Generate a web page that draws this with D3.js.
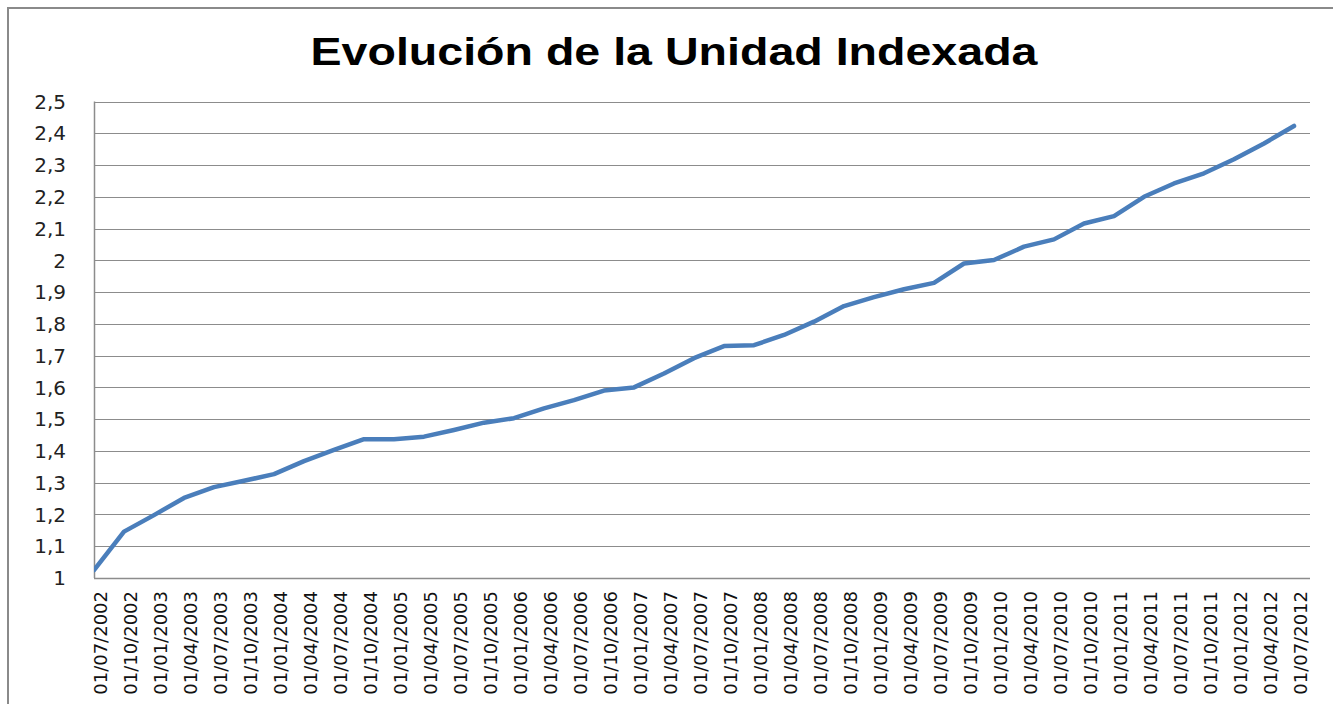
<!DOCTYPE html>
<html>
<head>
<meta charset="utf-8">
<script src="https://cdn.jsdelivr.net/npm/d3@7"></script>
<style>
  body { margin: 0; background: #fff; }
  svg { display: block; }
</style>
</head>
<body>
<div id="chart"></div>
<script>
// quarterly dates shown on the category axis
var fechas = ["01/07/2002","01/10/2002","01/01/2003","01/04/2003","01/07/2003","01/10/2003",
  "01/01/2004","01/04/2004","01/07/2004","01/10/2004","01/01/2005","01/04/2005","01/07/2005",
  "01/10/2005","01/01/2006","01/04/2006","01/07/2006","01/10/2006","01/01/2007","01/04/2007",
  "01/07/2007","01/10/2007","01/01/2008","01/04/2008","01/07/2008","01/10/2008","01/01/2009",
  "01/04/2009","01/07/2009","01/10/2009","01/01/2010","01/04/2010","01/07/2010","01/10/2010",
  "01/01/2011","01/04/2011","01/07/2011","01/10/2011","01/01/2012","01/04/2012","01/07/2012"];

// valor de la UI
var valores = [1.025,1.146,1.198,1.252,1.286,1.306,1.327,1.368,1.403,1.437,1.437,1.445,1.466,
  1.489,1.503,1.534,1.560,1.590,1.600,1.644,1.692,1.730,1.733,1.765,1.807,1.856,1.884,1.909,
  1.929,1.990,2.001,2.043,2.066,2.116,2.139,2.200,2.242,2.274,2.318,2.368,2.423];

var yTicks = [1,1.1,1.2,1.3,1.4,1.5,1.6,1.7,1.8,1.9,2,2.1,2.2,2.3,2.4,2.5];

var titulo = "Evolución de la Unidad Indexada";

var W = 1333, H = 704;
var plot = {left: 94, top: 101.5, right: 1310, bottom: 578};

var svg = d3.select("#chart").append("svg")
  .attr("width", W)
  .attr("height", H);

// chart area border (runs off the right/bottom edge)
svg.append("rect")
  .attr("x", 8).attr("y", 8)
  .attr("width", W + 10).attr("height", H + 10)
  .attr("fill", "#fff")
  .attr("stroke", "#8a8a8a")
  .attr("stroke-width", 2);

//////////////// scales ////////////////
var x = d3.scalePoint()
  .domain(fechas)
  .range([94, 1294]);

var y = d3.scaleLinear()
  .domain([1, 2.5])
  .range([plot.bottom, plot.top]);

var fmt = function(d) { return d3.format(".1~f")(d).replace(".", ","); };

//////////////// gridlines ////////////////
svg.append("g").selectAll("line")
  .data(yTicks)
  .enter().append("line")
  .attr("x1", plot.left).attr("x2", plot.right)
  .attr("y1", function(d) { return Math.round(y(d)) + 0.5; })
  .attr("y2", function(d) { return Math.round(y(d)) + 0.5; })
  .attr("stroke", "#8c8c8c")
  .attr("stroke-width", 1.2);

// left axis line
svg.append("line")
  .attr("x1", plot.left + 0.5).attr("x2", plot.left + 0.5)
  .attr("y1", plot.top).attr("y2", plot.bottom)
  .attr("stroke", "#8c8c8c")
  .attr("stroke-width", 1.5);

//////////////// y labels ////////////////
svg.append("g").selectAll("text")
  .data(yTicks)
  .enter().append("text")
  .attr("x", 66)
  .attr("y", function(d) { return y(d); })
  .attr("dy", "0.36em")
  .attr("text-anchor", "end")
  .style("font-family", "'DejaVu Sans', sans-serif")
  .style("font-size", "20px")
  .style("fill", "#222")
  .text(fmt);

//////////////// x labels ////////////////
svg.append("g").selectAll("text")
  .data(fechas)
  .enter().append("text")
  .attr("transform", function(d) { return "translate(" + (x(d) + 7) + ",591) rotate(-90)"; })
  .attr("dy", "0.36em")
  .attr("text-anchor", "end")
  .style("font-family", "'DejaVu Sans', sans-serif")
  .style("font-size", "18px")
  .style("fill", "#111")
  .text(function(d) { return d; });

//////////////// the line ////////////////
var line = d3.line()
  .x(function(d, i) { return x(fechas[i]); })
  .y(function(d) { return y(d); });

svg.append("clipPath").attr("id", "clip")
  .append("rect")
  .attr("x", plot.left).attr("y", plot.top - 10)
  .attr("width", plot.right - plot.left).attr("height", plot.bottom - plot.top + 10);

svg.append("path")
  .datum(valores)
  .attr("clip-path", "url(#clip)")
  .attr("d", line)
  .attr("fill", "none")
  .attr("stroke", "#4a7ebb")
  .attr("stroke-width", 4.5)
  .attr("stroke-linejoin", "round")
  .attr("stroke-linecap", "round");

// bottom axis line, drawn on top
svg.append("line")
  .attr("x1", plot.left).attr("x2", plot.right)
  .attr("y1", plot.bottom + 0.5).attr("y2", plot.bottom + 0.5)
  .attr("stroke", "#8c8c8c")
  .attr("stroke-width", 1.5);

//////////////// title ////////////////
svg.append("text")
  .attr("x", 674)
  .attr("y", 65)
  .attr("text-anchor", "middle")
  .attr("textLength", 727)
  .attr("lengthAdjust", "spacingAndGlyphs")
  .style("font-family", "'Liberation Sans', Arial, sans-serif")
  .style("font-weight", "bold")
  .style("font-size", "39px")
  .style("fill", "#000")
  .text(titulo);
</script>
</body>
</html>
